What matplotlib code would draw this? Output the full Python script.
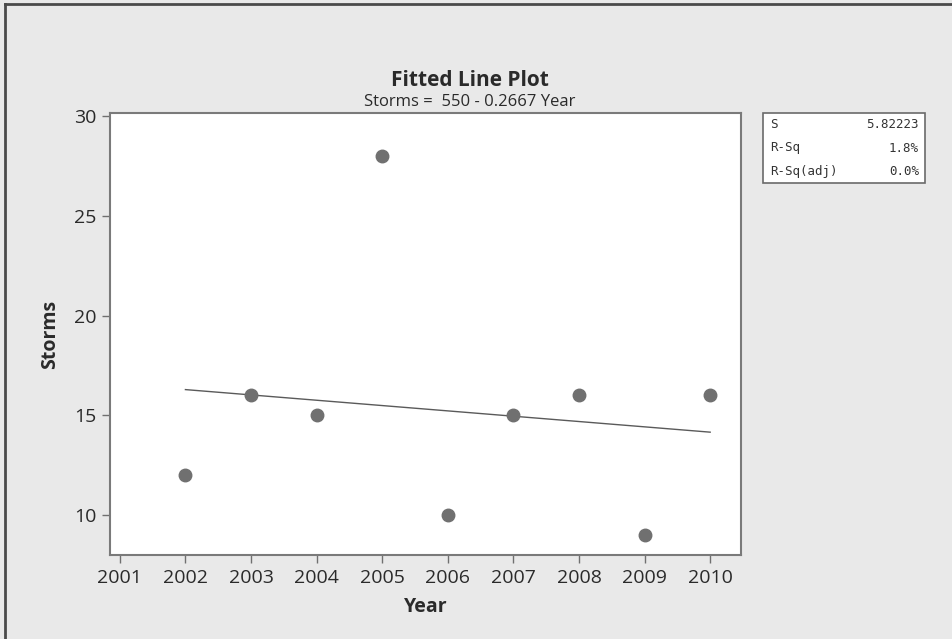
import numpy as np
import matplotlib.pyplot as plt
from matplotlib.patches import Rectangle
from matplotlib.lines import Line2D

years = [2002, 2003, 2004, 2005, 2006, 2007, 2008, 2009, 2010]
storms = [12, 16, 15, 28, 10, 15, 16, 9, 16]
xticks = list(range(2001, 2011))
yticks = [10, 15, 20, 25, 30]
stat_names = ['S', 'R-Sq', 'R-Sq(adj)']
stat_values = ['5.82223', '1.8%', '0.0%']

W, H = 953, 639
bg = '#e9e9e9'
font = 'Open Sans'

# least squares fit, used for both the line and the subtitle
slope, icpt = np.polyfit(years, storms, 1)

fig = plt.figure(figsize=(W / 100, H / 100), dpi=100, facecolor=bg)

def px(x0, y0, x1, y1):
    # pixel box (from top-left) -> figure fraction rect
    return [x0 / W, 1 - y1 / H, (x1 - x0) / W, (y1 - y0) / H]

ax = fig.add_axes(px(110, 113, 741, 555))
ax.set_facecolor('white')

xs = np.array([years[0], years[-1]])
ax.plot(xs, icpt + slope * xs, color='#5a5a5a', lw=1.0, zorder=2)
ax.plot(years, storms, 'o', color='#707070', ms=9, mec='#707070', zorder=3)

ax.set_xlim(2000.85, 2010.47)
ax.set_ylim(8.0, 30.15)
ax.set_xticks(xticks)
ax.set_yticks(yticks)
ax.tick_params(direction='out', length=6, width=1, color='#707070',
               labelcolor='#2a2a2a', labelsize=14, pad=4)
for lab in ax.get_xticklabels() + ax.get_yticklabels():
    lab.set_fontfamily(font)
for sp in ax.spines.values():
    sp.set_color('#7a7a7a')
    sp.set_linewidth(1.5)

ax.set_xlabel('Year', fontsize=14, fontweight='bold', family=font,
              color='#2a2a2a', labelpad=7)
ax.set_ylabel('Storms', fontsize=14, fontweight='bold', family=font,
              color='#2a2a2a', labelpad=10)

fig.text(470 / W, 1 - 81 / H, 'Fitted Line Plot', ha='center', va='center',
         fontsize=15, fontweight='bold', family=font, color='#2a2a2a')
fig.text(470 / W, 1 - 102 / H,
         f'Storms =  {icpt:.0f} - {abs(slope):.4f} Year',
         ha='center', va='center', fontsize=12, family=font, color='#2a2a2a')

# summary statistics box
bx0, by0, bx1, by1 = 763, 113, 925, 183
fig.add_artist(Rectangle((bx0 / W, 1 - by1 / H), (bx1 - bx0) / W, (by1 - by0) / H,
                         transform=fig.transFigure, facecolor='white',
                         edgecolor='#6a6a6a', lw=1.2))
row_h = (by1 - by0) / 3
for i, (n, v) in enumerate(zip(stat_names, stat_values)):
    yc = by0 + row_h * (i + 0.5)
    fig.text((bx0 + 7) / W, 1 - yc / H, n, ha='left', va='center',
             fontsize=9, family='DejaVu Sans Mono', color='#333333')
    fig.text((bx1 - 6) / W, 1 - yc / H, v, ha='right', va='center',
             fontsize=9, family='DejaVu Sans Mono', color='#333333')

# outer frame (left and top edges)
fig.add_artist(Line2D([5 / W, 5 / W], [0, 1 - 4 / H], transform=fig.transFigure,
                      color='#4a4a4a', lw=2))
fig.add_artist(Line2D([5 / W, 1], [1 - 4 / H, 1 - 4 / H], transform=fig.transFigure,
                      color='#4a4a4a', lw=2))

fig.savefig('out.png', dpi=100, facecolor=bg)
